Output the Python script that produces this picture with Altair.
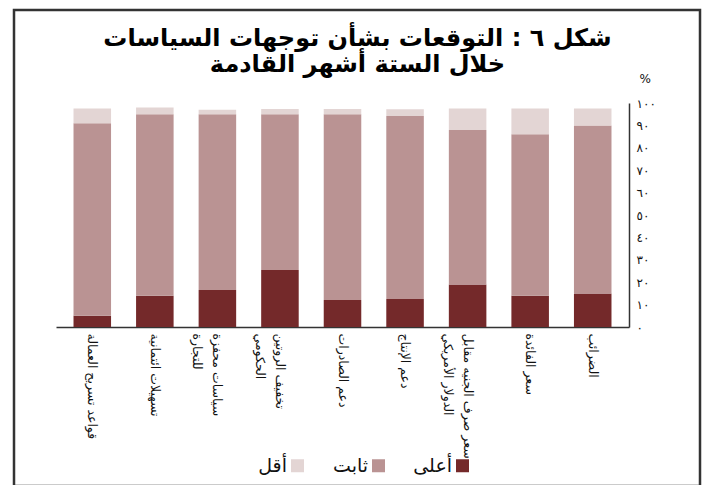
import altair as alt
import pandas as pd

categories = [
    "قواعد تسريح العمالة",
    "تسهيلات ائتمانية",
    "سياسات محفزة|للتجارة",
    "تخفيف الروتين|الحكومي",
    "دعم الصادرات",
    "دعم الإنتاج",
    "سعر صرف الجنيه مقابل|الدولار الأمريكي",
    "سعر الفائدة",
    "الضرائب",
]
higher = [5, 14, 16.5, 25.5, 12, 12.5, 19, 14, 15]
stable = [86, 81, 78.5, 69.5, 83, 81.7, 69, 72, 75]
lower = [6.5, 3, 2, 2.3, 2.3, 3, 9.5, 11.5, 7.5]

series_names = ["أعلى", "ثابت", "أقل"]
series_colors = ["#74292a", "#ba9393", "#e3d5d4"]
legend_order = ["أقل", "ثابت", "أعلى"]
legend_colors = ["#e3d5d4", "#ba9393", "#74292a"]

y_ticks = [0, 10, 20, 30, 40, 50, 60, 70, 80, 90, 100]
y_tick_labels = ["٠", "١٠", "٢٠", "٣٠", "٤٠", "٥٠", "٦٠", "٧٠", "٨٠", "٩٠", "١٠٠"]

title_lines = ["شكل ٦ : التوقعات بشأن توجهات السياسات", "خلال الستة أشهر القادمة"]

rows = []
for i, c in enumerate(categories):
    for s, vals, o in zip(series_names, [higher, stable, lower], [1, 2, 3]):
        rows.append({"cat": c, "series": s, "value": vals[i], "ord": o})
df = pd.DataFrame(rows)

expr = "''"
for t, l in reversed(list(zip(y_ticks, y_tick_labels))):
    expr = f"datum.value == {t} ? '{l}' : ({expr})"

FONT = "DejaVu Sans"

bars = alt.Chart(df).mark_bar().encode(
    x=alt.X(
        "cat:N",
        sort=categories,
        scale=alt.Scale(paddingInner=0.4, paddingOuter=0.28),
        axis=alt.Axis(
            title=None,
            labelAngle=90,
            labelAlign="left",
            labelBaseline="middle",
            labelExpr="split(datum.label, '|')",
            labelFontSize=12.5,
            labelLineHeight=20,
            labelPadding=6,
            labelFont=FONT,
            labelColor="#111",
            labelLimit=300,
            ticks=False,
            domainColor="#333",
            domainWidth=1.5,
        ),
    ),
    y=alt.Y(
        "value:Q",
        stack="zero",
        scale=alt.Scale(domain=[0, 100]),
        axis=alt.Axis(
            orient="right",
            values=y_ticks,
            labelExpr=expr,
            labelFont=FONT,
            labelFontSize=12,
            labelColor="#111",
            labelPadding=7,
            grid=False,
            ticks=False,
            domainColor="#333",
            domainWidth=1.5,
            title="%",
            titleAngle=0,
            titleX=10,
            titleY=-25,
            titleAlign="left",
            titleBaseline="middle",
            titleFontWeight="normal",
            titleFontSize=12,
            titleFont=FONT,
            titleColor="#111",
        ),
    ),
    color=alt.Color(
        "series:N",
        scale=alt.Scale(domain=legend_order, range=legend_colors),
        legend=alt.Legend(
            orient="none",
            legendX=232,
            legendY=353,
            direction="horizontal",
            title=None,
            symbolType="square",
            symbolSize=169,
            symbolStrokeWidth=0,
            symbolOpacity=1,
            labelAlign="right",
            labelOffset={"expr": "-20"},
            labelFontSize=19,
            labelFont=FONT,
            labelColor="#111",
            columnPadding=28,
        ),
    ),
    order=alt.Order("ord:Q", sort="ascending"),
)

frame = alt.Chart(alt.Data(values=[{"f": 1}])).mark_rect(
    fillOpacity=0, stroke="#333", strokeWidth=2.5
).encode(
    x=alt.value(-42), x2=alt.value(644), y=alt.value(-93), y2=alt.value(383)
)

chart = alt.layer(frame, bars).properties(
    width=573,
    height=224,
    autosize=alt.AutoSizeParams(type="none"),
    padding={"left": 48, "top": 95, "right": 73, "bottom": 158},
    title=alt.Title(
        title_lines,
        font=FONT,
        fontSize=24,
        fontWeight="bold",
        color="#000",
        anchor="middle",
        frame="group",
        dx=15,
        offset=-68,
        lineHeight=26,
    ),
).configure_view(stroke=None)

chart.save("out.html", embed_options={"renderer": "svg", "actions": False})
